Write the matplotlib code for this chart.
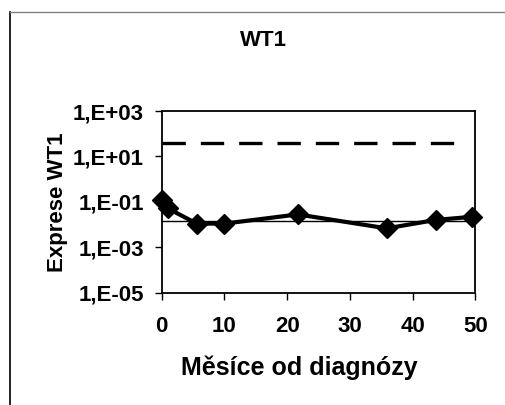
# WT1 expression over months since diagnosis
import matplotlib.pyplot as plt
from matplotlib.lines import Line2D

months = [0, 1, 5.6, 10, 21.7, 35.9, 43.7, 49.5]
expression = [0.12, 0.051, 0.011, 0.011, 0.028, 0.0068, 0.016, 0.022]

upper_x = [0, 47.2]
upper_y = [40, 40]
thresh_x = [0, 50]
thresh_y = [0.015, 0.015]

yticks = [1e3, 1e1, 1e-1, 1e-3, 1e-5]
ylabels = ["1,E+03", "1,E+01", "1,E-01", "1,E-03", "1,E-05"]
xticks = [0, 10, 20, 30, 40, 50]


def main():
    plt.rcParams['font.family'] = ['Liberation Sans', 'DejaVu Sans']
    plt.rcParams['font.weight'] = 'bold'

    fig = plt.figure(figsize=(5.06, 4.05), dpi=100)
    ax = fig.add_axes([0.3196, 0.2773, 0.9393 - 0.3196, 0.7259 - 0.2773])

    # thin threshold line and dashed upper line
    ax.plot(thresh_x, thresh_y, color='black', linewidth=1.0)
    ax.plot(upper_x, upper_y, color='black', linewidth=2.4, dashes=(7, 4.5))

    # measured values
    ax.plot(months, expression, color='black', linewidth=3,
            marker='D', markersize=10, clip_on=False)

    ax.set_yscale('log')
    ax.set_ylim(1e-5, 1e3)
    ax.set_xlim(0, 50)
    ax.minorticks_off()
    ax.set_yticks(yticks)
    ax.set_yticklabels(ylabels)
    ax.set_xticks(xticks)
    ax.tick_params(labelsize=16, length=5, width=1, pad=8)
    ax.tick_params(axis='x', pad=12)
    for s in ax.spines.values():
        s.set_linewidth(1.3)

    ax.set_xlabel("Měsíce od diagnózy", fontsize=18, fontweight='bold')
    ax.xaxis.set_label_coords(0.44, -0.345)
    ax.set_ylabel("Exprese WT1", fontsize=16, fontweight='bold')
    ax.yaxis.set_label_coords(-0.30, 0.5)
    fig.text(0.52, 0.90, "WT1", fontsize=16, fontweight='bold',
             ha='center', va='center')

    # chart border (left and top edges)
    fig.add_artist(Line2D([0.02, 0.02], [0, 0.97], color='black',
                          linewidth=1.2, transform=fig.transFigure))
    fig.add_artist(Line2D([0.02, 1.0], [0.97, 0.97], color='gray',
                          linewidth=1.0, transform=fig.transFigure))

    plt.savefig("out.png", dpi=100)


main()
